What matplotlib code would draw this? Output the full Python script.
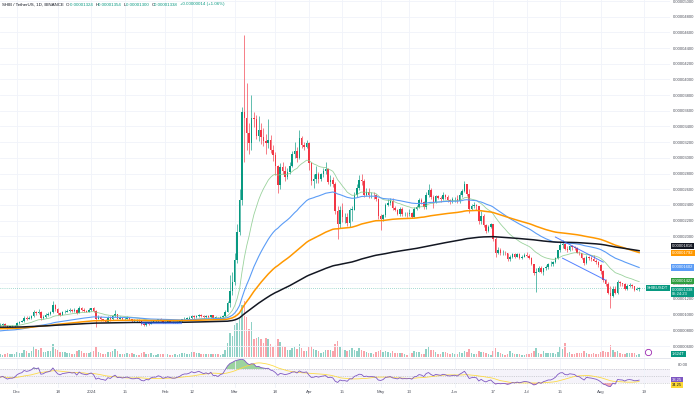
import numpy as np
import pandas as pd
import matplotlib
matplotlib.use("Agg")
import matplotlib.pyplot as plt
import matplotlib.transforms as mtransforms
from matplotlib.lines import Line2D

plt.rcParams['font.family'] = ['Liberation Sans', 'DejaVu Sans']

# SHIB / USDT daily candles, 24 Nov 2023 .. 17 Aug 2024
# prices in millionths of a USDT, volume in trillions of SHIB
start_date = "2023-11-24"
first_open = 8.6

close_nov = [8.7, 8.8, 8.6, 8.4, 8.5, 8.5, 8.6]
high_nov = [8.9, 8.9, 8.9, 8.7, 8.6, 8.7, 8.7]
low_nov = [8.5, 8.6, 8.5, 8.2, 8.3, 8.4, 8.4]
vol_nov = [1.5, 1.2, 1.4, 1.8, 1.5, 1.6, 1.7]

close_dec = [8.9, 9.1, 9.2, 9.6, 9.5, 9.6, 9.8, 10.3, 10.2, 10.4, 9.6, 9.7, 10.0, 10.1, 10.3, 11.2,
             10.7, 10.2, 10.0, 10.3, 10.4, 10.5, 10.6, 10.5, 10.6, 10.2, 10.9, 10.6, 10.5, 10.4, 10.6]
high_dec = [9.0, 9.2, 9.3, 9.8, 9.8, 9.8, 10.0, 10.6, 10.5, 10.7, 10.5, 9.9, 10.2, 10.3, 10.5, 11.7,
            11.3, 10.8, 10.3, 10.5, 10.6, 10.7, 10.8, 10.7, 10.8, 10.7, 11.1, 11.0, 10.8, 10.6, 10.8]
low_dec = [8.5, 8.8, 9.0, 9.1, 9.3, 9.4, 9.5, 9.7, 10.0, 10.1, 9.3, 9.4, 9.6, 9.8, 10.0, 10.2,
           10.5, 10.0, 9.8, 9.9, 10.2, 10.3, 10.4, 10.3, 10.4, 10.1, 10.2, 10.5, 10.4, 10.3, 10.3]
vol_dec = [2.6, 2.2, 2.0, 3.4, 2.8, 2.2, 3.1, 5.6, 4.0, 3.5, 4.6, 2.4, 2.6, 2.8, 3.0, 6.4,
           4.2, 3.3, 2.4, 2.6, 2.3, 2.2, 2.0, 1.6, 1.7, 2.8, 3.6, 3.0, 2.2, 1.8, 1.8]

close_jan = [10.8, 10.5, 9.5, 9.7, 9.4, 9.3, 9.1, 9.6, 9.4, 9.8, 10.1, 9.5, 9.6, 9.4, 9.5, 9.6,
             9.4, 9.2, 9.2, 9.3, 9.2, 8.8, 8.7, 8.9, 8.8, 9.1, 9.2, 9.2, 9.4, 9.3, 9.0]
high_jan = [10.9, 11.0, 10.6, 9.9, 9.8, 9.5, 9.4, 9.8, 9.8, 10.0, 10.6, 10.1, 9.8, 9.7, 9.7, 9.8,
            9.7, 9.5, 9.4, 9.4, 9.4, 9.3, 8.9, 9.0, 9.0, 9.2, 9.3, 9.3, 9.5, 9.6, 9.4]
low_jan = [10.5, 10.4, 8.4, 9.4, 9.2, 9.2, 9.0, 9.0, 9.2, 9.3, 9.7, 9.4, 9.4, 9.3, 9.3, 9.4,
           9.3, 9.1, 9.1, 9.1, 9.1, 8.7, 8.5, 8.6, 8.7, 8.8, 9.0, 9.1, 9.1, 9.2, 8.9]
vol_jan = [2.4, 3.0, 5.0, 2.6, 2.2, 1.6, 1.5, 2.6, 2.7, 3.0, 3.8, 2.8, 1.6, 1.4, 1.7, 1.8,
           1.6, 1.9, 1.6, 1.2, 1.2, 2.2, 2.4, 1.7, 1.4, 1.8, 1.2, 1.1, 1.5, 1.6, 1.7]

close_feb = [9.1, 9.2, 9.1, 9.0, 9.0, 9.1, 9.2, 9.4, 9.5, 9.5, 9.6, 9.8, 9.7, 9.8, 9.9,
             9.8, 9.7, 9.8, 9.7, 9.9, 9.6, 9.6, 9.5, 9.7, 9.8, 10.4, 11.5, 13.0, 14.2]
high_feb = [9.2, 9.3, 9.3, 9.2, 9.1, 9.2, 9.3, 9.5, 9.7, 9.7, 9.8, 10.0, 10.0, 9.9, 10.1,
            10.1, 9.9, 9.9, 10.0, 10.0, 10.0, 9.8, 9.7, 9.8, 9.9, 10.6, 11.8, 15.0, 15.5]
low_feb = [8.9, 9.0, 9.0, 8.9, 8.9, 8.9, 9.0, 9.1, 9.3, 9.4, 9.4, 9.5, 9.5, 9.6, 9.7,
           9.7, 9.6, 9.6, 9.6, 9.6, 9.5, 9.4, 9.4, 9.4, 9.6, 9.7, 10.3, 11.0, 12.5]
vol_feb = [1.6, 1.5, 1.1, 1.1, 1.3, 1.2, 1.3, 1.8, 1.9, 1.4, 1.6, 2.4, 2.3, 1.8, 2.0,
           1.5, 1.3, 1.3, 1.5, 1.7, 1.6, 1.4, 1.3, 1.2, 1.4, 3.6, 7.0, 12.0, 10.5]

close_mar = [17.0, 20.5, 24.6, 35.8, 35.1, 33.2, 31.9, 35.1, 34.9, 32.8, 33.6, 32.6, 32.2, 31.9, 32.3, 31.0,
             30.4, 29.0, 26.5, 28.8, 28.3, 27.6, 28.2, 29.0, 30.5, 30.9, 30.0, 32.5, 31.6, 31.4, 31.9]
high_mar = [17.8, 21.5, 26.0, 36.5, 45.7, 39.5, 34.5, 38.0, 35.9, 35.5, 35.3, 34.4, 33.8, 33.0, 35.0, 32.9,
            31.6, 30.8, 29.1, 29.3, 29.5, 28.9, 28.7, 29.5, 30.9, 32.0, 31.4, 33.5, 32.8, 32.0, 32.3]
low_mar = [13.8, 16.6, 20.2, 24.0, 29.5, 31.0, 30.5, 31.0, 33.9, 32.4, 32.2, 31.8, 31.5, 30.5, 31.2, 30.6,
           29.6, 27.8, 25.5, 26.0, 27.9, 27.0, 27.3, 28.0, 28.8, 30.0, 29.5, 29.8, 31.2, 31.0, 31.2]
vol_mar = [16.0, 17.0, 19.0, 26.0, 28.0, 20.0, 14.0, 17.5, 9.0, 9.5, 10.0, 9.0, 7.0, 9.5, 9.0, 6.5,
           5.0, 6.0, 9.0, 7.5, 5.5, 5.0, 3.6, 3.5, 4.5, 4.8, 4.0, 6.5, 4.5, 3.0, 3.0]

close_apr = [29.4, 27.1, 27.3, 28.0, 27.3, 27.9, 28.3, 28.6, 26.9, 27.2, 26.6, 23.2, 21.6, 23.3, 22.4,
             22.5, 21.7, 23.4, 23.4, 25.3, 26.1, 27.2, 27.0, 25.3, 25.7, 25.2, 25.3, 25.2, 24.8, 22.6]
high_apr = [32.0, 29.5, 28.0, 28.9, 28.2, 28.1, 28.7, 29.5, 28.7, 27.8, 27.6, 26.9, 23.8, 23.8, 24.3,
            23.0, 23.0, 23.6, 23.8, 25.6, 26.6, 27.8, 28.0, 27.3, 26.2, 26.1, 25.7, 25.7, 25.4, 24.9]
low_apr = [28.5, 26.5, 26.2, 26.8, 26.8, 27.1, 27.6, 28.0, 26.6, 26.4, 26.3, 22.8, 19.6, 21.0, 21.8,
           21.7, 21.3, 21.2, 22.0, 23.3, 25.0, 25.9, 26.5, 25.0, 25.1, 24.9, 24.9, 24.8, 24.5, 22.2]
vol_apr = [5.2, 5.5, 3.8, 3.5, 3.0, 2.2, 2.5, 3.6, 3.5, 3.4, 3.0, 6.5, 8.0, 5.0, 4.0,
           3.6, 3.0, 3.4, 4.4, 3.6, 3.2, 4.6, 3.4, 3.2, 2.4, 2.2, 1.8, 1.7, 2.3, 3.2]

close_may = [22.2, 22.7, 24.0, 24.2, 24.5, 23.6, 23.3, 22.9, 23.5, 22.8, 22.9, 22.8, 23.0, 22.5, 23.5, 23.7,
             24.6, 24.4, 23.7, 25.3, 25.9, 25.0, 24.4, 25.1, 24.9, 24.7, 25.2, 25.0, 24.6, 24.5, 24.7]
high_may = [22.8, 22.9, 24.3, 24.7, 24.9, 24.9, 23.9, 23.5, 23.7, 23.7, 23.1, 23.1, 23.5, 23.1, 23.7, 24.0,
            24.9, 24.9, 24.5, 25.6, 26.6, 26.2, 25.3, 25.3, 25.3, 25.1, 25.6, 25.4, 25.2, 24.8, 25.0]
low_may = [20.8, 22.0, 22.5, 23.8, 24.0, 23.4, 23.2, 22.7, 22.6, 22.6, 22.6, 22.5, 22.6, 22.3, 22.4, 23.3,
           23.6, 24.1, 23.5, 23.5, 25.0, 24.8, 23.6, 24.2, 24.7, 24.4, 24.6, 24.8, 24.4, 24.1, 24.3]
vol_may = [3.6, 2.5, 3.0, 2.4, 2.0, 2.8, 2.2, 1.9, 1.8, 2.1, 1.3, 1.2, 2.2, 2.0, 3.0, 2.7,
           2.6, 1.6, 1.5, 4.2, 5.0, 3.4, 3.4, 2.4, 1.6, 1.5, 2.5, 2.4, 2.0, 1.7, 1.8]

close_jun = [24.8, 24.5, 25.2, 25.8, 26.6, 25.4, 23.5, 23.9, 24.0, 23.8, 21.9, 22.6, 21.4, 20.7, 21.2,
             21.5, 19.7, 17.9, 18.2, 17.8, 17.9, 17.8, 17.1, 17.3, 17.7, 17.4, 17.7, 17.2, 17.4, 17.6]
high_jun = [25.0, 25.2, 25.7, 26.0, 27.0, 26.7, 26.0, 24.1, 24.4, 24.1, 23.9, 23.2, 22.8, 21.6, 21.4,
            21.7, 21.6, 19.9, 18.6, 18.5, 18.2, 18.1, 17.9, 17.6, 17.9, 17.9, 17.9, 17.8, 17.6, 17.9]
low_jun = [24.4, 24.2, 24.3, 25.0, 25.6, 25.1, 23.0, 23.3, 23.6, 23.4, 21.6, 21.6, 21.2, 20.4, 20.5,
           21.0, 19.4, 17.4, 17.7, 17.6, 17.6, 17.6, 16.9, 16.8, 17.2, 17.2, 17.3, 17.1, 17.1, 17.3]
vol_jun = [1.4, 1.3, 2.4, 2.2, 3.2, 2.4, 3.8, 2.0, 1.4, 1.6, 3.2, 2.6, 2.4, 2.2, 1.4,
           1.2, 2.8, 4.6, 2.4, 2.0, 1.7, 1.2, 1.6, 2.8, 2.2, 1.4, 1.5, 1.3, 1.0, 1.1]

close_jul = [17.5, 17.2, 16.4, 15.3, 15.5, 16.0, 15.4, 15.9, 16.1, 16.4, 16.4, 16.7, 17.2, 18.2, 18.9, 19.0,
             18.4, 18.3, 18.7, 18.6, 18.5, 17.9, 17.8, 17.2, 16.6, 17.4, 17.2, 17.1, 16.9, 16.7, 16.3]
high_jul = [18.0, 17.7, 17.3, 16.5, 15.9, 16.2, 16.2, 16.0, 16.3, 16.6, 16.8, 16.9, 17.4, 18.3, 19.3, 19.5,
            19.2, 18.7, 18.9, 18.9, 18.8, 18.6, 18.1, 17.9, 17.4, 17.6, 17.5, 17.5, 17.6, 17.1, 16.8]
low_jul = [17.3, 17.1, 16.3, 15.1, 12.9, 15.4, 15.3, 15.1, 15.7, 15.8, 16.2, 16.2, 16.6, 17.1, 18.0, 18.5,
           18.3, 18.0, 18.1, 18.3, 18.3, 17.8, 17.6, 17.1, 16.3, 16.5, 17.0, 16.9, 16.8, 16.5, 16.1]
vol_jul = [1.4, 1.3, 2.0, 3.2, 4.6, 2.2, 1.6, 3.0, 2.0, 1.9, 1.8, 1.8, 1.6, 2.6, 4.8, 3.8,
           7.0, 2.0, 2.4, 1.6, 1.5, 2.0, 2.0, 2.0, 2.8, 2.0, 1.6, 1.3, 1.8, 1.6, 1.7]

close_aug = [15.6, 14.4, 13.9, 12.8, 12.4, 13.3, 12.7, 14.2, 14.0, 13.9, 13.3, 13.7, 13.8, 13.6, 13.2,
             13.24, 13.38]
high_aug = [16.4, 15.7, 14.6, 14.2, 13.6, 13.6, 13.6, 14.4, 14.3, 14.1, 14.1, 13.9, 14.1, 13.9, 13.7,
            13.5, 13.54]
low_aug = [15.2, 14.2, 13.7, 12.6, 10.85, 12.3, 12.6, 12.6, 13.7, 13.6, 13.1, 13.1, 13.5, 13.4, 13.0,
           13.1, 13.0]
vol_aug = [2.4, 3.0, 2.6, 2.6, 6.0, 3.6, 2.4, 3.0, 2.2, 1.4, 1.6, 2.0, 2.2, 1.8, 1.9, 1.2, 1.624]

# indicator levels at the left edge of the chart
ema_seeds = {20: 8.6, 50: 7.9, 100: 8.2, 200: 8.4}
rsi_seed_gain, rsi_seed_loss = 0.08, 0.10

# hand-drawn lines on the chart: (date, price)
channel_upper = [("2024-07-13", 19.9), ("2024-08-02", 16.7)]
channel_lower = [("2024-07-16", 17.2), ("2024-08-03", 14.4)]
range_line = [("2024-01-22", 8.9), ("2024-02-08", 8.9)]

tick_dates = ["2023-12-01", "2023-12-18", "2024-01-01", "2024-01-15", "2024-02-01", "2024-02-12",
              "2024-03-01", "2024-03-18", "2024-04-01", "2024-04-15", "2024-05-01", "2024-05-13",
              "2024-06-01", "2024-06-17", "2024-07-01", "2024-07-15", "2024-08-01", "2024-08-19"]
tick_labels = ["Dec", "18", "2024", "15", "Feb", "12", "Mar", "18", "Apr", "15", "May", "13",
               "Jun", "17", "Jul", "15", "Aug", "19"]

closes = np.array(close_nov + close_dec + close_jan + close_feb + close_mar + close_apr +
                  close_may + close_jun + close_jul + close_aug)
highs = np.array(high_nov + high_dec + high_jan + high_feb + high_mar + high_apr +
                 high_may + high_jun + high_jul + high_aug)
lows = np.array(low_nov + low_dec + low_jan + low_feb + low_mar + low_apr +
                low_may + low_jun + low_jul + low_aug)
vols = np.array(vol_nov + vol_dec + vol_jan + vol_feb + vol_mar + vol_apr +
                vol_may + vol_jun + vol_jul + vol_aug)
assert len(closes) == len(highs) == len(lows) == len(vols)

opens = np.concatenate([[first_open], closes[:-1]])
highs = np.maximum(highs, np.maximum(opens, closes))
lows = np.minimum(lows, np.minimum(opens, closes))

ref_day = pd.Timestamp("2023-12-01")
dates = pd.date_range(start_date, periods=len(closes), freq="D")
x = (dates - ref_day).days.values.astype(float)


def day(s):
    return (pd.Timestamp(s) - ref_day).days


def ema(values, span, seed):
    alpha = 2.0 / (span + 1)
    out = []
    prev = seed
    for v in values:
        prev = alpha * v + (1 - alpha) * prev
        out.append(prev)
    return np.array(out)


emas = {n: ema(closes, n, s) for n, s in ema_seeds.items()}

# RSI 14 (Wilder smoothing) and its 14-day average
delta = np.diff(closes, prepend=first_open)
avg_g, avg_l = rsi_seed_gain, rsi_seed_loss
rsi = []
for d in delta:
    avg_g = (avg_g * 13 + max(d, 0)) / 14
    avg_l = (avg_l * 13 + max(-d, 0)) / 14
    rsi.append(100 - 100 / (1 + avg_g / avg_l))
rsi = np.array(rsi)
rsi_ma = pd.Series(rsi).rolling(14, min_periods=1).mean().values

UP = "#089981"
DOWN = "#f23645"
GRID = "#f0f3fa"
TXT = "#50535e"

W, H = 699.0, 396.0
PX_PER_UNIT = 357 / (50.13 - 4.60)


def px_box(left, top, right, bottom):
    return [left / W, 1 - bottom / H, (right - left) / W, (bottom - top) / H]


fig = plt.figure(figsize=(6.99, 3.96), dpi=100)
fig.patch.set_facecolor("white")
ax = fig.add_axes(px_box(0, 0, 670, 357))
axv = ax.twinx()
ax_rsi = fig.add_axes(px_box(0, 358, 670, 388), sharex=ax)

ax.set_zorder(axv.get_zorder() + 1)
ax.patch.set_visible(False)

ax.set_xlim(-7.1, 272.9)
ax.set_ylim(4.60, 50.13)
axv.set_ylim(0, 178.5)
ax_rsi.set_ylim(15.7, 101.4)

# volume
up = closes >= opens
colors = np.where(up, UP, DOWN)
axv.bar(x, vols, width=0.62, color=colors, alpha=0.45, linewidth=0)

# candles
ax.vlines(x, lows, highs, colors=colors, linewidth=0.45, zorder=3)
ax.bar(x, np.maximum(np.abs(closes - opens), 0.05), bottom=np.minimum(opens, closes),
       width=0.62, color=colors, linewidth=0, zorder=4)

# moving averages
ax.plot(x, emas[20], color="#81c784", lw=0.6, alpha=0.8, zorder=5)
ax.plot(x, emas[50], color="#5b9cf6", lw=0.8, zorder=5)
ax.plot(x, emas[100], color="#ff9800", lw=1.1, zorder=5)
ax.plot(x, emas[200], color="#131722", lw=1.1, zorder=6)

# drawings
for seg in (channel_upper, channel_lower):
    ax.plot([day(d) for d, _ in seg], [p for _, p in seg], color="#2962ff", lw=0.7, alpha=0.8, zorder=6)
ax.plot([day(d) for d, _ in range_line], [p for _, p in range_line], color="#2962ff", lw=1.6,
        alpha=0.6, zorder=6, solid_capstyle="butt")

ax.axhline(closes[-1], color=UP, lw=0.5, ls=(0, (1, 2)), alpha=0.7, zorder=2)

# axes styling
price_ticks = np.arange(6, 51, 2)
ax.set_yticks(price_ticks)
ax.set_yticklabels([f"{v * 1e-6:.8f}" for v in price_ticks])
ax.yaxis.tick_right()
ax.tick_params(axis="y", length=0, pad=2, labelsize=3, labelcolor=TXT)
ax.tick_params(axis="x", length=0, labelbottom=False)
tick_x = [day(d) for d in tick_dates]
ax.set_xticks(tick_x)
ax.grid(True, color=GRID, lw=0.6)
axv.set_yticks([])
for a in (ax, axv, ax_rsi):
    for s in a.spines.values():
        s.set_visible(False)

ax_rsi.set_xticks(tick_x)
ax_rsi.set_xticklabels(tick_labels)
ax_rsi.tick_params(axis="x", length=0, pad=1.5, labelsize=3.2, labelcolor=TXT)
ax_rsi.set_yticks([])
ax_rsi.grid(True, axis="x", color=GRID, lw=0.6)

# RSI pane
ax_rsi.axhspan(30, 70, color="#7e57c2", alpha=0.07, lw=0)
for lvl in (70, 50, 30):
    ax_rsi.axhline(lvl, color="#9598a1", lw=0.4, ls=(0, (2, 2)), alpha=0.7)
ax_rsi.fill_between(x, 70, rsi, where=rsi > 70, color="#4caf50", alpha=0.55, lw=0, interpolate=True)
ax_rsi.fill_between(x, 30, rsi, where=rsi < 30, color="#f23645", alpha=0.4, lw=0, interpolate=True)
ax_rsi.plot(x, rsi_ma, color="#fdd835", lw=0.6, alpha=0.9)
ax_rsi.plot(x, rsi, color="#7e57c2", lw=0.6)

fig.add_artist(Line2D([0, 670 / W], [1 - 357.5 / H] * 2, color="#e0e3eb", lw=0.6))


def badge(axis, yval, text, fc, tc="white", xpos=1.003, ha="left", size=3):
    tr = mtransforms.blended_transform_factory(axis.transAxes, axis.transData)
    axis.text(xpos, yval, text, transform=tr, fontsize=size, color=tc, va="center", ha=ha,
              linespacing=1.1, bbox=dict(boxstyle="square,pad=0.25", fc=fc, ec="none"),
              clip_on=False, zorder=10)


# price-axis badges: last price first, then the averages stacked upwards so none overlap
last = closes[-1]
price_center = last - 0.5
badge(ax, price_center, f"{last * 1e-6:.8f}\n05:24:23", UP)
badge(ax, last, "SHIBUSDT", UP, xpos=0.998, ha="right")

ma_badges = [(emas[20][-1], "#2e9e3e"), (emas[50][-1], "#5b9cf6"),
             (emas[100][-1], "#ff9800"), (emas[200][-1], "#131722")]
gap = 7.0 / PX_PER_UNIT
floor = price_center + 11.0 / PX_PER_UNIT
for val, col in sorted(ma_badges, key=lambda t: t[0]):
    y = max(val, floor)
    badge(ax, y, f"{val * 1e-6:.8f}", col)
    floor = y + gap

badge(axv, vols[-1], f"{vols[-1]:.3f}T", UP)

tr_r = mtransforms.blended_transform_factory(ax_rsi.transAxes, ax_rsi.transData)
ax_rsi.text(1.012, 80, "80.00", transform=tr_r, fontsize=3, color=TXT, va="center", clip_on=False)
badge(ax_rsi, rsi[-1], f"{rsi[-1]:.2f}", "#7e57c2")
badge(ax_rsi, rsi[-1] - 15, f"{rsi_ma[-1]:.2f}", "#fdd835", tc="#131722")

ax.plot([648 / 670], [1 - 352 / 357], marker="o", ms=4.5, mfc="white", mec="#9c27b0", mew=0.6,
        transform=ax.transAxes, clip_on=False, zorder=10)

# legend line at the top
change = closes[-1] - closes[-2]
pieces = [("O", "#131722"), (f"{opens[-1] * 1e-6:.8f}  ", UP),
          ("H", "#131722"), (f"{highs[-1] * 1e-6:.8f}  ", UP),
          ("L", "#131722"), (f"{lows[-1] * 1e-6:.8f}  ", UP),
          ("C", "#131722"), (f"{closes[-1] * 1e-6:.8f}  ", UP),
          (f"+{change * 1e-6:.8f} (+{change / closes[-2] * 100:.2f}%)", UP)]
prev = fig.text(2 / W, 1 - 4.5 / H, "SHIB / TetherUS, 1D, BINANCE  ", fontsize=3.2, color="#131722",
                va="center")
for txt, col in pieces:
    prev = ax.annotate(txt, xy=(1, 0.5), xycoords=prev, fontsize=3.2, color=col, va="center",
                       annotation_clip=False)

fig.savefig("out.png", dpi=100)
